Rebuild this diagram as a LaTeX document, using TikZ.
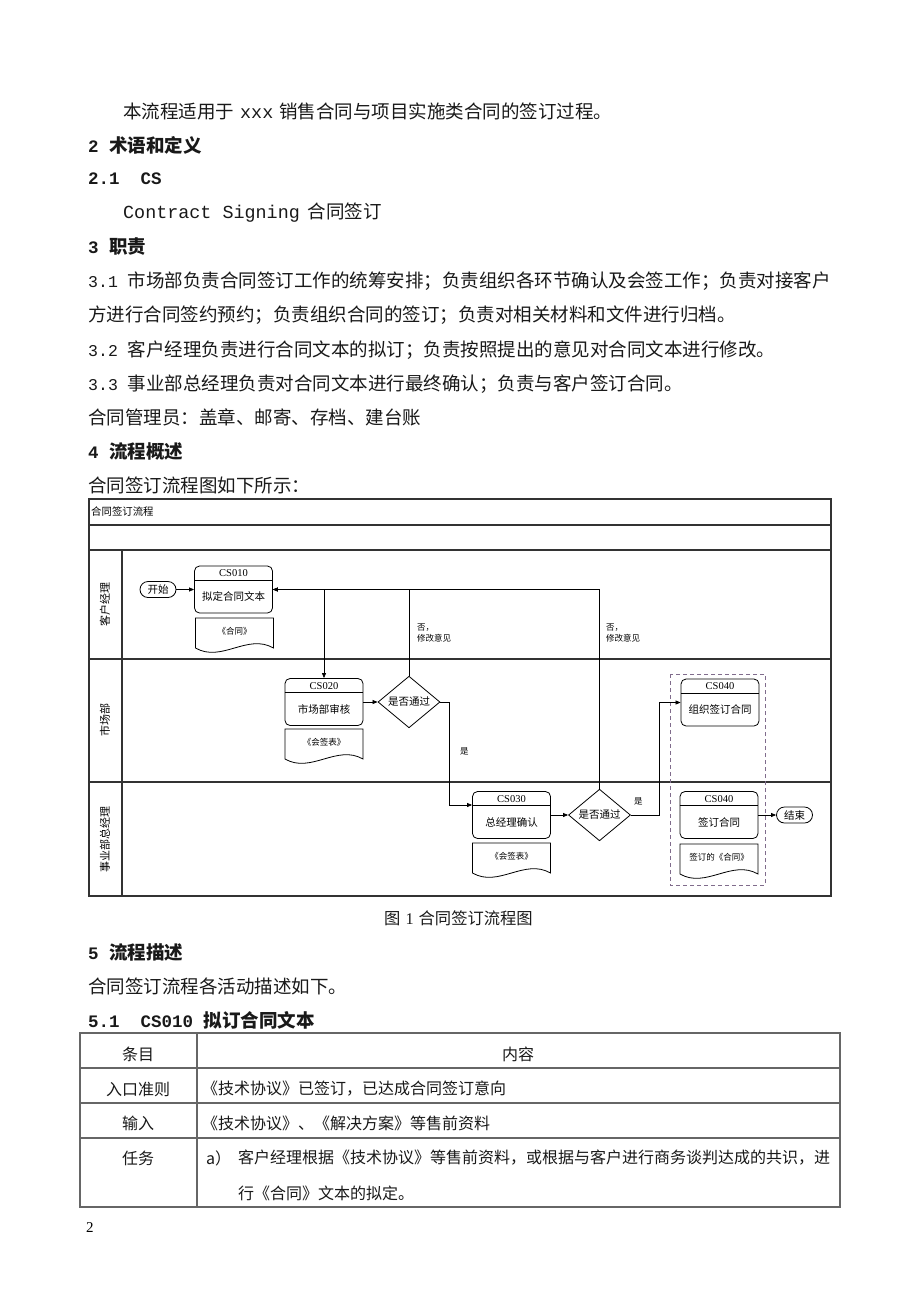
\documentclass[tikz,border=0pt]{standalone}
\usepackage{fontspec}
\setmainfont{Noto Sans CJK SC}
\newfontfamily\mono{Liberation Mono}
\newfontfamily\tnr{Liberation Serif}
\usetikzlibrary{arrows.meta,shapes.geometric,calc}
\definecolor{dashcol}{RGB}{128,108,140}
\definecolor{txtcol}{RGB}{25,25,25}
\tikzset{
  txt/.style={anchor=west,inner sep=0pt,text=txtcol,font=\fontsize{18.5}{22}\selectfont},
  hd/.style={anchor=west,inner sep=0pt,text=txtcol,font=\fontsize{18.5}{22}\selectfont\bfseries},
  tbl/.style={inner sep=0pt,text=txtcol,font=\fontsize{16}{20}\selectfont},
  lane/.style={draw=black!80,line width=1.1pt},
  tline/.style={draw=black!60,line width=1.1pt},
  proc/.style={draw,rounded corners=5pt,minimum width=78pt,minimum height=47pt,inner sep=0pt,line width=0.8pt},
  codetxt/.style={inner sep=0pt,font=\tnr\fontsize{10.5}{12}\selectfont},
  ptext/.style={inner sep=0pt,font=\fontsize{10.5}{12}\selectfont},
  dec/.style={draw,diamond,minimum width=62pt,minimum height=47pt,inner sep=0pt,line width=0.8pt,font=\fontsize{10.5}{12}\selectfont},
  term/.style={draw,rounded corners=8pt,minimum width=36pt,minimum height=16pt,inner sep=0pt,line width=0.8pt,font=\fontsize{10.5}{12}\selectfont},
  doclbl/.style={inner sep=0pt,font=\fontsize{8.5}{10}\selectfont},
  note/.style={anchor=west,align=left,inner sep=0pt,font=\fontsize{8.5}{11.5}\selectfont},
  flow/.style={-{Triangle[length=5pt,width=4pt]},line width=0.7pt},
  lanelbl/.style={rotate=90,inner sep=0pt,font=\fontsize{11}{12}\selectfont},
}
\newcommand\procbox[5]{%
  \node[proc] (#1) at (#2,#3) {};
  \draw[line width=0.8pt] ($(#1.north west)+(0,14.5)$) -- ($(#1.north east)+(0,14.5)$);
  \node[codetxt] (#1c) at ($(#1.north)+(0,7.5)$) {#4};
  \node[ptext] (#1t) at ($(#1.center)+(0,7)$) {#5};
}
\newcommand\docbox[4]{%
  \begin{scope}[shift={(#2,#3)}]
    \draw[line width=0.8pt] (0,0) -- (78,0) -- (78,30) .. controls (52,15) and (26,45) .. (0,30) -- cycle;
  \end{scope}
  \node[doclbl] (#1) at (#2+39,#3+13) {#4};
}
\newcommand\mnum[1]{{\mono\fontsize{16.5}{20}\selectfont #1}}
\newcommand\mhd[1]{{\mono\fontsize{17.5}{20}\selectfont #1}}
\begin{document}
\begin{tikzpicture}[x=1pt,y=-1pt]
\path[fill=white,use as bounding box] (0,0) rectangle (920,1302);

% body text
\node[txt] (l1) at (123,111) {本流程适用于\hspace{6pt}{\mono\fontsize{18.4}{22}\selectfont xxx}\hspace{6pt}销售合同与项目实施类合同的签订过程。};
\node[hd] (h2) at (88,145) {\mhd{2 }术语和定义};
\node[hd] (h21) at (88,179) {\mhd{2.1\ \ CS}};
\node[txt] (l2) at (123,213) {{\mono\fontsize{18.4}{22}\selectfont Contract Signing}\hspace{8pt}合同签订};
\node[hd] (h3) at (88,247) {\mhd{3 }职责};
\node[txt] (l31a) at (88,281) {\mnum{3.1 }市场部负责合同签订工作的统筹安排；负责组织各环节确认及会签工作；负责对接客户};
\node[txt] (l31b) at (88,315) {方进行合同签约预约；负责组织合同的签订；负责对相关材料和文件进行归档。};
\node[txt] (l32) at (88,350) {\mnum{3.2 }客户经理负责进行合同文本的拟订；负责按照提出的意见对合同文本进行修改。};
\node[txt] (l33) at (88,384) {\mnum{3.3 }事业部总经理负责对合同文本进行最终确认；负责与客户签订合同。};
\node[txt] (l34) at (88,417) {合同管理员：盖章、邮寄、存档、建台账};
\node[hd] (h4) at (88,451) {\mhd{4 }流程概述};
\node[txt] (l4) at (88,485) {合同签订流程图如下所示：};

% diagram frame
\draw[lane] (89,499) rectangle (831,896);
\draw[lane] (89,525) -- (831,525);
\draw[lane] (89,550) -- (831,550);
\draw[lane] (89,659) -- (831,659);
\draw[lane] (89,782) -- (831,782);
\draw[lane] (122,550) -- (122,896);
\node[anchor=west,inner sep=0pt,font=\fontsize{10.4}{12}\selectfont] (ttl) at (91,512) {合同签订流程};
\node[lanelbl] (lane1) at (105,604) {客户经理};
\node[lanelbl] (lane2) at (105,720) {市场部};
\node[lanelbl] (lane3) at (105,839) {事业部总经理};

% dashed group
\draw[draw=dashcol,line width=1pt,dash pattern=on 4pt off 3pt] (670,674) rectangle (765,885);

% nodes
\node[term] (start) at (158,589.5) {开始};
\procbox{cs010}{233.5}{589.5}{CS010}{拟定合同文本}
\docbox{doc1}{195.5}{618}{《合同》}
\procbox{cs020}{324}{702}{CS020}{市场部审核}
\docbox{doc2}{285}{729}{《会签表》}
\node[dec] (d1) at (409,702) {是否通过};
\procbox{cs030}{511.5}{815}{CS030}{总经理确认}
\docbox{doc3}{472.5}{843}{《会签表》}
\node[dec] (d2) at (599.5,815) {是否通过};
\procbox{cs040a}{720}{702.5}{CS040}{组织签订合同}
\procbox{cs040b}{719}{815}{CS040}{签订合同}
\docbox{doc4}{680}{844}{签订的《合同》}
\node[term] (finish) at (794.5,815) {结束};

% connectors
\draw[flow] (start.east) -- (cs010.west);
\draw[flow] (cs010.east) -| (cs020.north);
\draw[flow] (d1.north) |- (cs010.east);
\draw[flow] (d2.north) |- (cs010.east);
\draw[flow] (cs020.east) -- (d1.west);
\draw[flow] (d1.east) -- ++(9,0) |- ($(cs030.west)+(0,-10)$);
\draw[flow] (cs030.east) -- (d2.west);
\draw[flow] (d2.east) -- ++(28,0) |- (cs040a.west);
\draw[flow] (cs040b.east) -- (finish.west);

\node[note] (n1) at (417,633) {否，\\修改意见};
\node[note] (n2) at (606,633) {否，\\修改意见};
\node[note] (y1) at (460,751) {是};
\node[note] (y2) at (634,801) {是};

% caption and section 5
\node[inner sep=0pt,anchor=west,text=txtcol,font=\fontsize{16.3}{20}\selectfont] (cap) at (384,918) {图\hspace{5pt}{\tnr 1}\hspace{5pt}合同签订流程图};
\node[hd] (h5) at (88,952) {\mhd{5 }流程描述};
\node[txt] (l5) at (88,986) {合同签订流程各活动描述如下。};
\node[hd] (h51) at (88,1020) {\mhd{5.1\ \ CS010 }拟订合同文本};

% table
\draw[tline] (80,1033) rectangle (840,1207);
\draw[tline] (80,1068) -- (840,1068);
\draw[tline] (80,1103) -- (840,1103);
\draw[tline] (80,1138) -- (840,1138);
\draw[tline] (197,1033) -- (197,1207);
\node[tbl] (t11) at (138,1054) {条目};
\node[tbl] (t12) at (518,1054) {内容};
\node[tbl] (t21) at (138,1089) {入口准则};
\node[tbl,anchor=west] (t22) at (202,1089) {《技术协议》已签订，已达成合同签订意向};
\node[tbl] (t31) at (138,1123) {输入};
\node[tbl,anchor=west] (t32) at (202,1123) {《技术协议》、《解决方案》等售前资料};
\node[tbl] (t41) at (138,1158) {任务};
\node[tbl,anchor=west] (t42a) at (206,1158) {a）};
\node[tbl,anchor=west] (t42b) at (238,1158) {客户经理根据《技术协议》等售前资料，或根据与客户进行商务谈判达成的共识，进};
\node[tbl,anchor=west] (t42c) at (238,1193) {行《合同》文本的拟定。};
\node[inner sep=0pt,anchor=west,font=\tnr\fontsize{15}{17}\selectfont] (pg) at (86,1228) {2};
\end{tikzpicture}
\end{document}
